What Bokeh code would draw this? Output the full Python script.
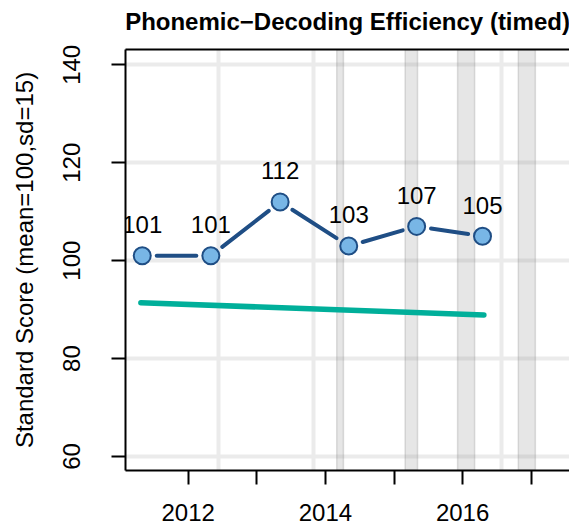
from bokeh.plotting import figure
from bokeh.models import FixedTicker, LinearAxis, Range1d, Grid
from bokeh.embed import file_html
from bokeh.resources import INLINE
from bokeh.core.properties import value

# ---- data ----
years = [2011.33, 2012.33, 2013.34, 2014.34, 2015.33, 2016.29]
scores = [101, 101, 112, 103, 107, 105]
score_labels = ["101", "101", "112", "103", "107", "105"]
trend_years = [2011.31, 2016.31]
trend_scores = [91.4, 88.9]
band_start = [2014.165, 2015.162, 2015.927, 2016.812]
band_end = [2014.263, 2015.343, 2016.175, 2017.06]
grid_years = [2012.447, 2013.82, 2016.56]
y_ticks = [60, 80, 100, 120, 140]
x_ticks = [2012, 2013, 2014, 2015, 2016, 2017]
x_tick_labels = ["2012", "", "2014", "", "2016", ""]
title_text = "Phonemic\u2212Decoding Efficiency (timed)"
y_title = "Standard Score (mean=100,sd=15)"

FONT = "Liberation Sans"
X0, X1 = 2011.086, 2017.558
Y0, Y1 = 57.14, 143.13
FW, FH = 444, 421

p = figure(width=569, height=531, output_backend="svg", toolbar_location=None,
           x_range=Range1d(X0, X1), y_range=Range1d(Y0, Y1),
           x_axis_type=None, y_axis_type=None,
           min_border_left=125, min_border_right=0, min_border_top=49, min_border_bottom=61)
p.outline_line_color = None
p.background_fill_color = "white"
p.border_fill_color = "white"

# axes
xa = LinearAxis(ticker=FixedTicker(ticks=x_ticks))
xa.major_label_overrides = {t: l for t, l in zip(x_ticks, x_tick_labels)}
ya = LinearAxis(ticker=FixedTicker(ticks=y_ticks))
top = LinearAxis(ticker=FixedTicker(ticks=[]))
for ax in (xa, ya, top):
    ax.axis_line_color = "black"
    ax.axis_line_width = 2
    ax.major_tick_line_color = "black"
    ax.major_tick_line_width = 2
    ax.major_tick_out = 14
    ax.major_tick_in = 0
    ax.minor_tick_line_color = None
    ax.major_label_text_font = FONT
    ax.major_label_text_font_size = "24px"
    ax.major_label_text_color = "black"
top.major_tick_out = 0
top.major_label_text_font_size = "0px"
top.major_label_standoff = 0
xa.major_label_standoff = 19
ya.major_label_standoff = 31
ya.major_label_orientation = "vertical"
ya.axis_label = y_title
ya.axis_label_text_font = FONT
ya.axis_label_text_font_size = "24px"
ya.axis_label_text_font_style = "normal"
ya.axis_label_text_color = "black"
ya.axis_label_standoff = 23

# title drawn as the label of the top (box) axis
p.title.visible = False
top.axis_label = title_text
top.axis_label_text_font = FONT
top.axis_label_text_font_size = "24px"
top.axis_label_text_font_style = "bold"
top.axis_label_text_color = "black"
top.axis_label_standoff = 15

p.add_layout(xa, "below")
p.add_layout(ya, "left")
p.add_layout(top, "above")

# grid lines
p.xgrid.visible = False
p.ygrid.visible = False
hg = Grid(dimension=1, ticker=FixedTicker(ticks=y_ticks), grid_line_color="#EBEBEB", grid_line_width=4)
vg = Grid(dimension=0, ticker=FixedTicker(ticks=grid_years), grid_line_color="#EBEBEB", grid_line_width=4)
p.add_layout(hg)
p.add_layout(vg)

# bands
p.quad(left=band_start, right=band_end, bottom=[Y0] * len(band_start), top=[Y1] * len(band_start),
       fill_color="#808080", fill_alpha=0.2, line_color="#808080", line_alpha=0.25, line_width=1.5)

# trend line
p.line(trend_years, trend_scores, line_color="#00AF9A", line_width=5.5, line_cap="round")

# blue line with gaps near points (type="b")
gap = 14.5
sx = FW / (X1 - X0)
sy = FH / (Y1 - Y0)
x0s, y0s, x1s, y1s = [], [], [], []
for i in range(len(years) - 1):
    ax_, ay_ = years[i] * sx, scores[i] * sy
    bx_, by_ = years[i + 1] * sx, scores[i + 1] * sy
    dx, dy = bx_ - ax_, by_ - ay_
    d = (dx * dx + dy * dy) ** 0.5
    ux, uy = dx / d, dy / d
    x0s.append((ax_ + ux * gap) / sx)
    y0s.append((ay_ + uy * gap) / sy)
    x1s.append((bx_ - ux * gap) / sx)
    y1s.append((by_ - uy * gap) / sy)
p.segment(x0s, y0s, x1s, y1s, line_color="#1F4E85", line_width=4, line_cap="round")

p.scatter(years, scores, size=17, fill_color="#78B6E6", line_color="#1F4E85", line_width=2)
p.text(years, scores, text=score_labels, text_font=value(FONT), text_font_size="24px",
       text_align="center", text_baseline="alphabetic", y_offset=-31, text_color="black")

open("out.html", "w").write(file_html(p, INLINE))
